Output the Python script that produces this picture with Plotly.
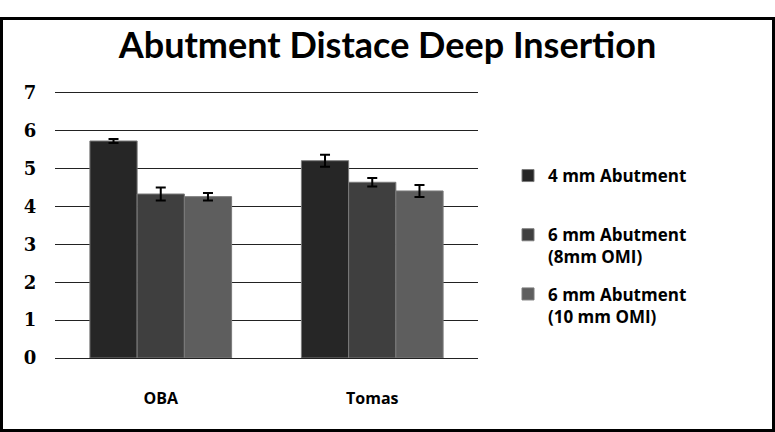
import plotly.graph_objects as go

categories = ["OBA", "Tomas"]
series_names = ["4 mm Abutment<br> ", "6 mm Abutment<br>(8mm OMI)", "6 mm Abutment<br>(10 mm OMI)"]
abut_4mm = [5.73, 5.21]
abut_6mm_8 = [4.33, 4.64]
abut_6mm_10 = [4.26, 4.41]
err_4mm = [0.05, 0.16]
err_6mm_8 = [0.17, 0.11]
err_6mm_10 = [0.10, 0.16]
y_ticks = [0, 1, 2, 3, 4, 5, 6, 7]

colors = ["#262626", "#3f3f3f", "#5e5e5e"]
values = [abut_4mm, abut_6mm_8, abut_6mm_10]
errors = [err_4mm, err_6mm_8, err_6mm_10]

fig = go.Figure()
for i, name in enumerate(series_names):
    fig.add_trace(go.Bar(
        x=categories, y=values[i], name=name,
        legendgroup=str(i),
        marker=dict(color=colors[i], line=dict(color="#7a7a7a", width=1)),
        error_y=dict(type="data", array=errors[i], visible=True,
                     color="black", thickness=2, width=5),
    ))

# plot area in pixels: l=55, r=478, t=91, b=358 (y range padded so the 7 gridline shows)
L, R, T, B, W, H = 55, 478, 91, 358, 775, 432
pw, ph = R - L, B - T

fig.update_layout(
    width=W, height=H,
    margin=dict(l=L, r=W - R, t=T, b=H - B),
    paper_bgcolor="white", plot_bgcolor="white",
    barmode="group", bargap=0.33, bargroupgap=0,
    title=dict(text="Abutment Distace Deep Insertion", x=0.5, xref="container",
               xanchor="center", y=1 - 45 / H, yanchor="middle",
               font=dict(family="Lato", size=36, color="black", weight="bold")),
    font=dict(family="Lato", color="black"),
    showlegend=True,
    legend=dict(x=(508 - L) / pw, xanchor="left", y=(B - 158) / ph, yanchor="top",
                valign="top", traceorder="grouped", tracegroupgap=12,
                font=dict(family="Open Sans", size=17, color="black", weight="bold"),
                bgcolor="rgba(0,0,0,0)"),
    xaxis=dict(showline=False, showgrid=False, ticks="outside", ticklen=26,
               tickcolor="white",
               tickfont=dict(family="Open Sans", size=16, color="black", weight="bold")),
    yaxis=dict(range=[0, 7.05], tickvals=y_ticks, showgrid=True, gridcolor="#222222",
               gridwidth=1, zeroline=True, zerolinecolor="#222222", zerolinewidth=1,
               showline=False, ticks="outside", ticklen=14, tickcolor="white",
               tickfont=dict(family="DejaVu Serif", size=18, color="black", weight="bold")),
    shapes=[dict(type="rect", xref="paper", yref="paper",
                 x0=-L / pw + 1.5 / pw, x1=(W - L) / pw - 1.5 / pw,
                 y0=-(H - B) / ph + 1.5 / ph, y1=(H - T) / ph - 1.5 / ph,
                 line=dict(color="black", width=3), layer="above")],
)

fig.write_html("out.html", config={"displayModeBar": False},
               post_script="document.body.style.margin='0';")
